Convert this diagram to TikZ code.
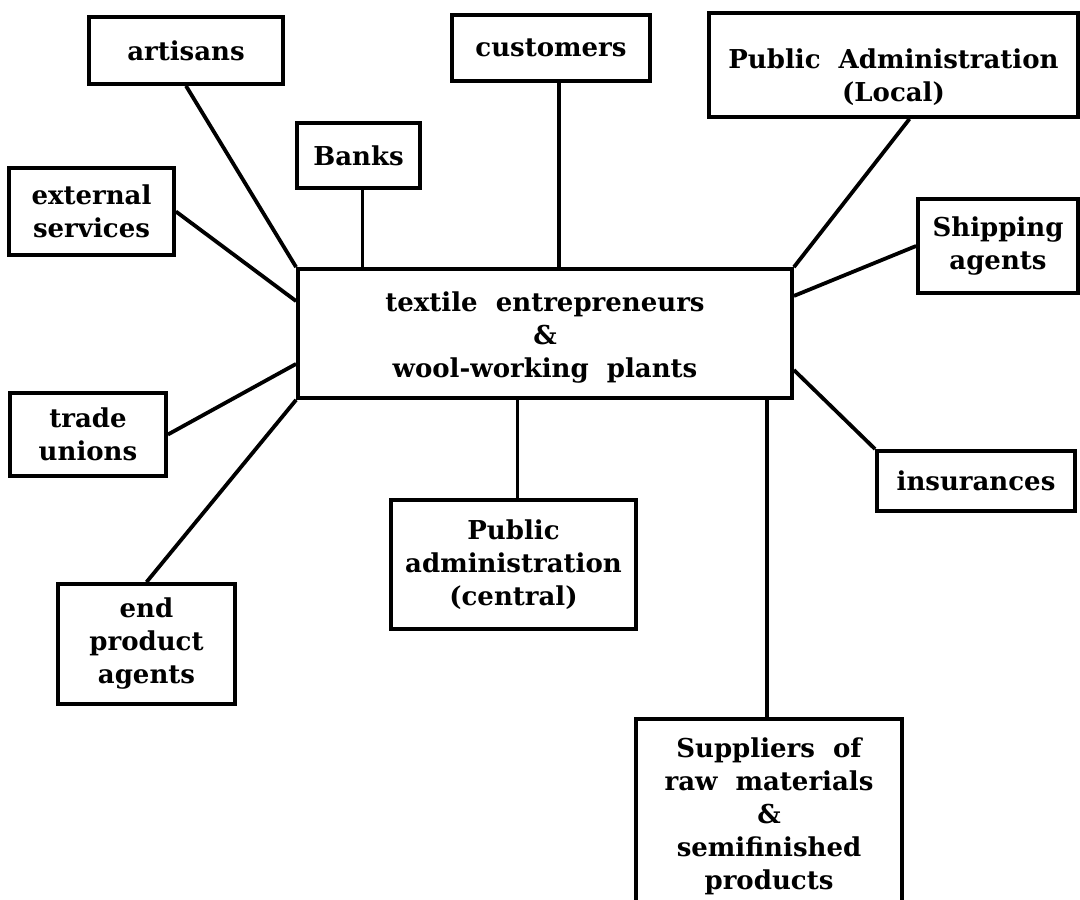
\documentclass[tikz,border=0pt]{standalone}
\usepackage{fontspec}
\setmainfont{DejaVu Serif}
\usetikzlibrary{calc}
\begin{document}
\begin{tikzpicture}[x=0.5pt,y=-0.5pt,
  lbl/.style={align=center, inner sep=0pt,
    font=\bfseries\fontsize{13}{16.5}\selectfont},
  box/.style={lbl, draw, line width=1.9pt},
  link/.style={line width=1.9pt}]
\useasboundingbox (0,0) rectangle (1080,899);
\fill[white] (0,0) rectangle (1080,899);
\clip (0,0) rectangle (1080,899);

\node[box, minimum width=247pt, minimum height=64.5pt] (c) at (545,333.5) {};
\node[lbl] (ct) at (545,338) {textile\ \ entrepreneurs\\ \&\\ wool-working\ \ plants};
\node[box, minimum width=97pt, minimum height=33.5pt] (art) at (186,50.5) {artisans};
\node[box, minimum width=99pt, minimum height=33pt] (cu) at (551,48) {customers};
\node[box, minimum width=184.5pt, minimum height=52pt] (pl) at (893.5,65) {};
\node[lbl] (plt) at (893.5,77) {Public\ \ Administration\\ (Local)};
\node[box, minimum width=61.5pt, minimum height=32.5pt] (bk) at (358.5,155.5) {Banks};
\node[box, minimum width=82.5pt, minimum height=43.5pt] (ext) at (91.5,211.5)
  {external\\ services};
\node[box, minimum width=80pt, minimum height=47pt] (sh) at (998,246)
  {Shipping\\ agents};
\node[box, minimum width=78pt, minimum height=41.5pt] (tu) at (88,434.5)
  {trade\\ unions};
\node[box, minimum width=99pt, minimum height=30pt] (ins) at (976,481) {insurances};
\node[box, minimum width=122.5pt, minimum height=64.5pt] (pc) at (513.5,564.5)
  {Public\\ administration\\ (central)};
\node[box, minimum width=88.5pt, minimum height=60pt] (ep) at (146.5,644)
  {end\\ product\\ agents};
\node[box, minimum width=133pt, minimum height=97pt] (sup) at (769,816)
  {Suppliers\ \ of\\ raw\ \ materials\\ \&\\ semifinished\\ products};

\draw[link] (art.south) -- (c.north west);
\draw[link] (ext.east) -- ($(c.north west)!0.256!(c.south west)$);
\draw[link] ([xshift=2pt]bk.south) -- ([xshift=2pt]bk.south |- c.north);
\draw[link] ([xshift=4pt]cu.south) -- ([xshift=4pt]cu.south |- c.north);
\draw[link] ([xshift=8pt]pl.south) -- (c.north east);
\draw[link] (sh.west) -- ($(c.north east)!0.217!(c.south east)$);
\draw[link] (tu.east) -- ($(c.north west)!0.729!(c.south west)$);
\draw[link] (ep.north) -- (c.south west);
\draw[link] ([xshift=2pt]pc.north) -- ([xshift=2pt]pc.north |- c.south);
\draw[link] ($(c.north east)!0.775!(c.south east)$) -- (ins.north west);
\draw[link] ([xshift=-1pt]sup.north) -- ([xshift=-1pt]sup.north |- c.south);
\end{tikzpicture}
\end{document}
